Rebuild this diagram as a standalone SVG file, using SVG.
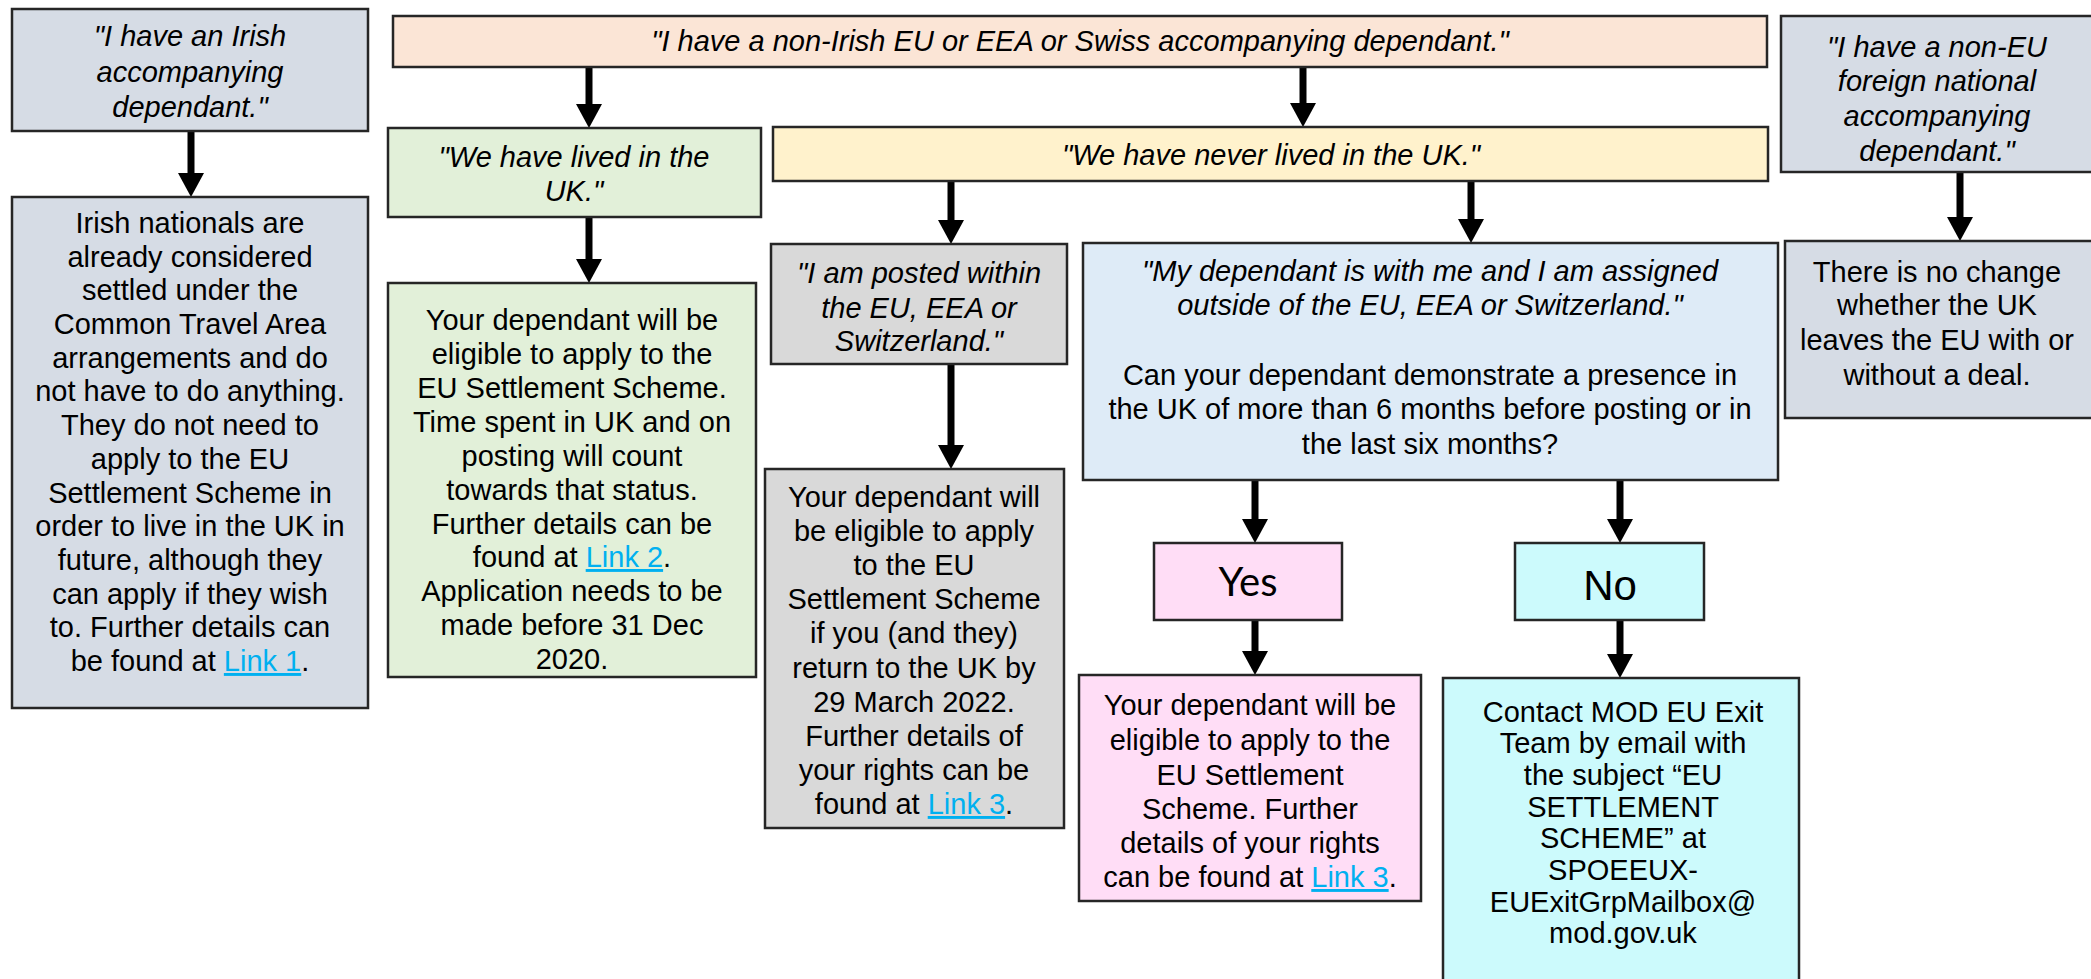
<svg xmlns="http://www.w3.org/2000/svg" width="2091" height="979" viewBox="0 0 2091 979">
<defs>
<marker id="ah" markerUnits="userSpaceOnUse" markerWidth="24" markerHeight="26" viewBox="0 0 24 26" refX="0" refY="13" orient="auto">
<path d="M0,0 L24,13 L0,26 z" fill="#000"/>
</marker>
<style>
.box{stroke:#262626;stroke-width:2.5}
.t{font-family:"Liberation Sans",Arial,sans-serif;font-size:29px;fill:#000;text-anchor:middle}
.i{font-style:italic}
.lk{fill:#00B0F0;text-decoration:underline}
.yes{font-family:Lato,"Open Sans",sans-serif;font-size:40px;fill:#000;text-anchor:middle}
.no{font-family:"Liberation Sans",Arial,sans-serif;font-size:42px;fill:#000;text-anchor:middle}
.arr{stroke:#000;stroke-width:7;fill:none;marker-end:url(#ah)}
</style>
</defs>
<rect width="2091" height="979" fill="#fff"/>

<g id="connectors">
<path class="arr" d="M191,131 V173"/>
<path class="arr" d="M589,67 V104"/>
<path class="arr" d="M589,217 V259"/>
<path class="arr" d="M1303,67 V103"/>
<path class="arr" d="M951,181 V220"/>
<path class="arr" d="M951,364 V445"/>
<path class="arr" d="M1471,181 V219"/>
<path class="arr" d="M1255,480 V519"/>
<path class="arr" d="M1255,619 V651"/>
<path class="arr" d="M1620,480 V519"/>
<path class="arr" d="M1620,620 V654"/>
<path class="arr" d="M1960,172 V217"/>
</g>

<g id="irish-q">
<rect class="box" x="12" y="9" width="356" height="122" fill="#D6DCE5"/>
<text class="t i"><tspan x="190" y="46">"I have an Irish</tspan><tspan x="190" y="82">accompanying</tspan><tspan x="190" y="117">dependant."</tspan></text>
</g>

<g id="irish-a">
<rect class="box" x="12" y="197" width="356" height="511" fill="#D6DCE5"/>
<text class="t"><tspan x="190" y="233">Irish nationals are</tspan><tspan x="190" y="267">already considered</tspan><tspan x="190" y="300">settled under the</tspan><tspan x="190" y="334">Common Travel Area</tspan><tspan x="190" y="368">arrangements and do</tspan><tspan x="190" y="401">not have to do anything.</tspan><tspan x="190" y="435">They do not need to</tspan><tspan x="190" y="469">apply to the EU</tspan><tspan x="190" y="503">Settlement Scheme in</tspan><tspan x="190" y="536">order to live in the UK in</tspan><tspan x="190" y="570">future, although they</tspan><tspan x="190" y="604">can apply if they wish</tspan><tspan x="190" y="637">to. Further details can</tspan><tspan x="190" y="671">be found at <tspan class="lk">Link 1</tspan>.</tspan></text>
</g>

<g id="eu-q">
<rect class="box" x="393" y="16" width="1374" height="51" fill="#FBE5D6"/>
<text class="t i" x="1080" y="51">"I have a non-Irish EU or EEA or Swiss accompanying dependant."</text>
</g>

<g id="lived">
<rect class="box" x="388" y="128" width="373" height="89" fill="#E2F0D9"/>
<text class="t i"><tspan x="574" y="167">"We have lived in the</tspan><tspan x="574" y="201">UK."</tspan></text>
</g>

<g id="lived-a">
<rect class="box" x="388" y="283" width="368" height="394" fill="#E2F0D9"/>
<text class="t"><tspan x="572" y="330">Your dependant will be</tspan><tspan x="572" y="364">eligible to apply to the</tspan><tspan x="572" y="398">EU Settlement Scheme.</tspan><tspan x="572" y="432">Time spent in UK and on</tspan><tspan x="572" y="466">posting will count</tspan><tspan x="572" y="500">towards that status.</tspan><tspan x="572" y="534">Further details can be</tspan><tspan x="572" y="567">found at <tspan class="lk">Link 2</tspan>.</tspan><tspan x="572" y="601">Application needs to be</tspan><tspan x="572" y="635">made before 31 Dec</tspan><tspan x="572" y="669">2020.</tspan></text>
</g>

<g id="never">
<rect class="box" x="773" y="127" width="995" height="54" fill="#FFF2CC"/>
<text class="t i" x="1271" y="165">"We have never lived in the UK."</text>
</g>

<g id="posted">
<rect class="box" x="771" y="244" width="296" height="120" fill="#D9D9D9"/>
<text class="t i"><tspan x="919" y="283">"I am posted within</tspan><tspan x="919" y="318">the EU, EEA or</tspan><tspan x="919" y="351">Switzerland."</tspan></text>
</g>

<g id="posted-a">
<rect class="box" x="765" y="469" width="299" height="359" fill="#D9D9D9"/>
<text class="t"><tspan x="914" y="507">Your dependant will</tspan><tspan x="914" y="541">be eligible to apply</tspan><tspan x="914" y="575">to the EU</tspan><tspan x="914" y="609">Settlement Scheme</tspan><tspan x="914" y="643">if you (and they)</tspan><tspan x="914" y="678">return to the UK by</tspan><tspan x="914" y="712">29 March 2022.</tspan><tspan x="914" y="746">Further details of</tspan><tspan x="914" y="780">your rights can be</tspan><tspan x="914" y="814">found at <tspan class="lk">Link 3</tspan>.</tspan></text>
</g>

<g id="outside">
<rect class="box" x="1083" y="243" width="695" height="237" fill="#DEEBF7"/>
<text class="t"><tspan class="i" x="1430" y="281">"My dependant is with me and I am assigned</tspan><tspan class="i" x="1430" y="315">outside of the EU, EEA or Switzerland."</tspan><tspan x="1430" y="385">Can your dependant demonstrate a presence in</tspan><tspan x="1430" y="419">the UK of more than 6 months before posting or in</tspan><tspan x="1430" y="454">the last six months?</tspan></text>
</g>

<g id="yes">
<rect class="box" x="1154" y="543" width="188" height="77" fill="#FFDDF6"/>
<text class="yes" x="1248" y="596">Yes</text>
</g>

<g id="yes-a">
<rect class="box" x="1079" y="675" width="342" height="226" fill="#FFDDF6"/>
<text class="t"><tspan x="1250" y="715">Your dependant will be</tspan><tspan x="1250" y="750">eligible to apply to the</tspan><tspan x="1250" y="785">EU Settlement</tspan><tspan x="1250" y="819">Scheme. Further</tspan><tspan x="1250" y="853">details of your rights</tspan><tspan x="1250" y="887">can be found at <tspan class="lk">Link 3</tspan>.</tspan></text>
</g>

<g id="no">
<rect class="box" x="1515" y="543" width="189" height="77" fill="#CCFAFC"/>
<text class="no" x="1610" y="600">No</text>
</g>

<g id="no-a">
<rect class="box" x="1443" y="678" width="356" height="310" fill="#CCFAFC"/>
<text class="t"><tspan x="1623" y="722">Contact MOD EU Exit</tspan><tspan x="1623" y="753">Team by email with</tspan><tspan x="1623" y="785">the subject “EU</tspan><tspan x="1623" y="817">SETTLEMENT</tspan><tspan x="1623" y="848">SCHEME” at</tspan><tspan x="1623" y="880">SPOEEUX-</tspan><tspan x="1623" y="912">EUExitGrpMailbox@</tspan><tspan x="1623" y="943">mod.gov.uk</tspan></text>
</g>

<g id="noneu-q">
<rect class="box" x="1781" y="16" width="313" height="156" fill="#D6DCE5"/>
<text class="t i"><tspan x="1937" y="57">"I have a non-EU</tspan><tspan x="1937" y="91">foreign national</tspan><tspan x="1937" y="126">accompanying</tspan><tspan x="1937" y="161">dependant."</tspan></text>
</g>

<g id="noneu-a">
<rect class="box" x="1785" y="241" width="309" height="177" fill="#D6DCE5"/>
<text class="t"><tspan x="1937" y="282">There is no change</tspan><tspan x="1937" y="315">whether the UK</tspan><tspan x="1937" y="350">leaves the EU with or</tspan><tspan x="1937" y="385">without a deal.</tspan></text>
</g>
</svg>
